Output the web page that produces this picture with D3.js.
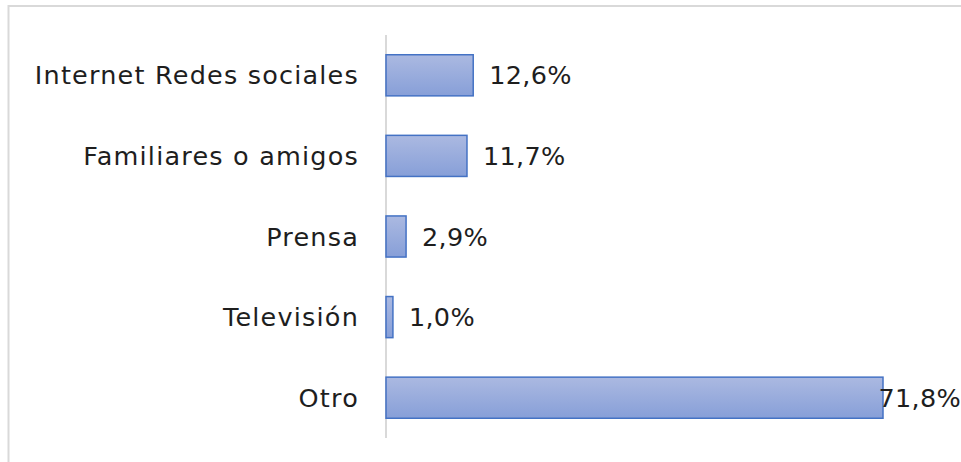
<!DOCTYPE html>
<html><head><meta charset="utf-8">
<script src="https://cdn.jsdelivr.net/npm/d3@7"></script>
<style>html,body{margin:0;padding:0;background:#fff;}svg{display:block;}</style>
</head><body>
<svg id="c" width="961" height="462"></svg>
<script>
const categories = ["Internet Redes sociales", "Familiares o amigos", "Prensa", "Televisión", "Otro"];
const values = [12.6, 11.7, 2.9, 1.0, 71.8];
const valueLabels = ["12,6%", "11,7%", "2,9%", "1,0%", "71,8%"];

const W = 961, H = 462;
const svg = d3.select("#c");
const font = "'DejaVu Sans', sans-serif";

// frame
svg.append("path").attr("d", `M8.5,${H} L8.5,6 L961,6`).attr("fill","none")
  .attr("stroke","#d9d9d9").attr("stroke-width",2);

const defs = svg.append("defs");
const g = defs.append("linearGradient").attr("id","bg").attr("x1",0).attr("x2",0).attr("y1",0).attr("y2",1);
g.append("stop").attr("offset","0%").attr("stop-color","#abb9e1");
g.append("stop").attr("offset","100%").attr("stop-color","#879fd8");

const x = d3.scaleLinear().domain([0, 71.8]).range([386, 883]);
const y = d3.scaleBand().domain(categories).range([35, 438]).paddingInner(0.49).paddingOuter(0.245);

// axis line
svg.append("line").attr("x1",386).attr("x2",386).attr("y1",35).attr("y2",438)
  .attr("stroke","#d9d9d9").attr("stroke-width",2);

svg.selectAll("rect.bar").data(values).join("rect").attr("class","bar")
  .attr("x", x(0)).attr("y", (d,i)=>y(categories[i]))
  .attr("width", d=>x(d)-x(0)).attr("height", y.bandwidth())
  .attr("fill","url(#bg)").attr("stroke","#4472c4").attr("stroke-width",1.5);

const yAxis = d3.axisLeft(y).tickSize(0).tickPadding(0);
const ax = svg.append("g").attr("transform","translate(359,0)").call(yAxis);
ax.select(".domain").remove();
ax.selectAll("text").attr("font-family",font).attr("font-size",25.5).attr("fill","#1e1e1e")
  .attr("letter-spacing","1.2px").attr("dy","0.36em");

svg.selectAll("text.val").data(values).join("text").attr("class","val")
  .attr("x", d=>x(d)+16).attr("y",(d,i)=>y(categories[i])+y.bandwidth()/2)
  .attr("dy","0.36em").attr("font-family",font).attr("font-size",25.5).attr("fill","#1e1e1e")
  .attr("letter-spacing","0.3px")
  .text((d,i)=>valueLabels[i])
  .each(function(){
    const w = this.getComputedTextLength();
    const xx = +this.getAttribute("x");
    if (xx + w > W) this.setAttribute("x", W - w);
  });
</script>
</body></html>
